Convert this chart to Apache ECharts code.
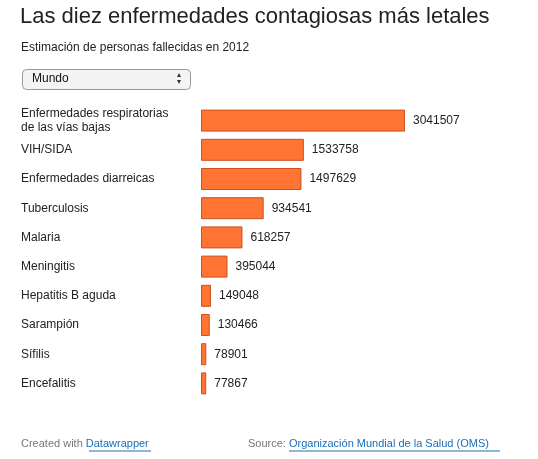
<!DOCTYPE html>
<html>
<head>
<meta charset="utf-8">
<script src="https://cdn.jsdelivr.net/npm/echarts@6/dist/echarts.min.js"></script>
<style>
  html, body { margin: 0; padding: 0; background: #fff; }
  #chart { width: 538px; height: 459px; }
</style>
</head>
<body>
<div id="chart"></div>
<script>
const categories = [
    'Enfermedades respiratorias\nde las vías bajas',
    'VIH/SIDA',
    'Enfermedades diarreicas',
    'Tuberculosis',
    'Malaria',
    'Meningitis',
    'Hepatitis B aguda',
    'Sarampión',
    'Sífilis',
    'Encefalitis'
];
const deaths = [3041507, 1533758, 1497629, 934541, 618257, 395044, 149048, 130466, 78901, 77867];

function init(){
    const element = document.getElementById("chart");
    const instance = echarts.init(element);
    const font = 'Liberation Sans, Arial, sans-serif';
    let option = {
        animation: false,
        textStyle: { fontFamily: font },
        grid: { left: 201, top: 106, width: 204, height: 292 },
        xAxis: {
            type: 'value', min: 0, max: 3041507,
            show: false
        },
        yAxis: {
            type: 'category',
            data: categories,
            inverse: true,
            axisLine: { show: false },
            axisTick: { show: false },
            axisLabel: {
                align: 'left', margin: 180,
                color: '#222', fontSize: 12, lineHeight: 14, fontFamily: font
            }
        },
        series: [{
            type: 'bar',
            data: deaths,
            barWidth: 22,
            itemStyle: { color: '#ff7333', borderColor: '#c9531f', borderWidth: 1 },
            label: {
                show: true, position: 'right', distance: 8,
                color: '#222', fontSize: 12, fontFamily: font
            }
        }],
        graphic: [
            { type: 'text', left: 20, top: 6, style: { text: 'Las diez enfermedades contagiosas más letales', fontSize: 22, fill: '#222', fontFamily: font } },
            { type: 'text', left: 21, top: 42, style: { text: 'Estimación de personas fallecidas en 2012', fontSize: 12, fill: '#222', fontFamily: font } },
            { type: 'rect', shape: { x: 22.5, y: 69.5, width: 168, height: 20, r: 4 },
              style: { fill: '#f4f4f4', stroke: '#999', lineWidth: 1 } },
            { type: 'text', left: 32, top: 73, style: { text: 'Mundo', fontSize: 12, fill: '#111', fontFamily: font } },
            { type: 'text', left: 177, top: 71, style: { text: '▴\n▾', fontSize: 8, lineHeight: 7, fill: '#333', fontFamily: 'DejaVu Sans' } },
            { type: 'text', left: 21, top: 438, style: {
                rich: { a: { fontSize: 11, fill: '#777' }, l: { fontSize: 11, fill: '#1a6fb8', textDecoration: 'underline' } },
                text: '{a|Created with }{l|Datawrapper}', fontFamily: font } },
            { type: 'line', shape: { x1: 89, y1: 451, x2: 151, y2: 451 }, style: { stroke: '#1a6fb8', lineWidth: 1 } },
            { type: 'text', left: 248, top: 438, style: {
                rich: { a: { fontSize: 11, fill: '#777' }, l: { fontSize: 11, fill: '#1a6fb8' } },
                text: '{a|Source: }{l|Organización Mundial de la Salud (OMS)}', fontFamily: font } },
            { type: 'line', shape: { x1: 289, y1: 451, x2: 500, y2: 451 }, style: { stroke: '#1a6fb8', lineWidth: 1 } }
        ]
    };

    instance && instance.setOption(option)

    window.onresize = function(){
        instance.resize();
    }
}
init();
</script>
</body>
</html>
